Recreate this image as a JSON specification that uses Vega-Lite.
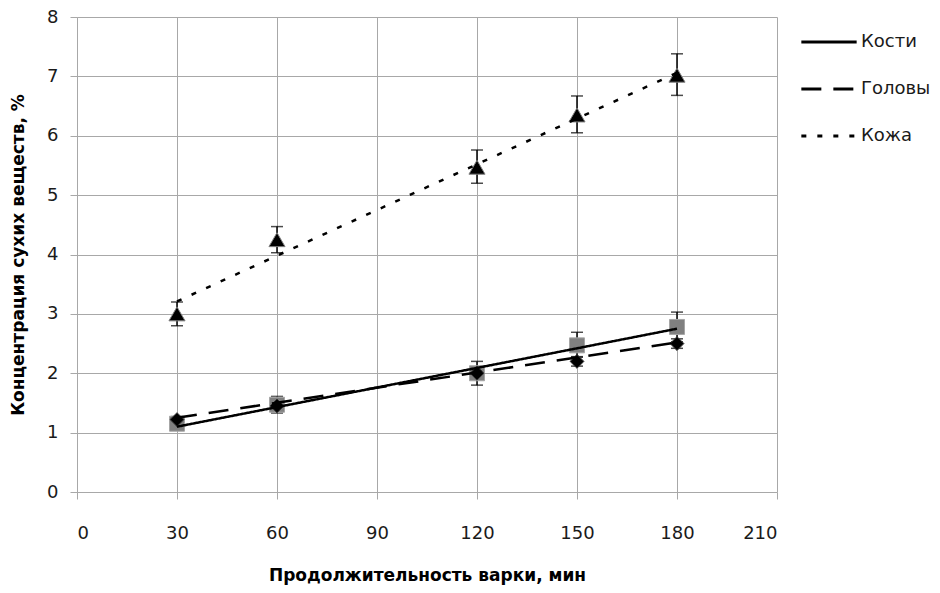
{
  "$schema": "https://vega.github.io/schema/vega-lite/v6.json",
  "autosize": {"type": "none"},
  "width": 700,
  "height": 475,
  "padding": {"left": 77, "top": 17, "right": 163, "bottom": 101},
  "background": "white",
  "config": {
    "view": {"stroke": null},
    "font": "DejaVu Sans",
    "axis": {
      "gridColor": "#a8a8a8",
      "gridWidth": 1,
      "domainColor": "#a8a8a8",
      "tickColor": "#a8a8a8",
      "tickSize": 7,
      "labelFont": "DejaVu Sans",
      "labelFontSize": 18,
      "labelColor": "#1a1a1a",
      "titleFont": "DejaVu Sans",
      "titleFontSize": 17,
      "titleFontWeight": "bold",
      "titleColor": "#000000"
    }
  },
  "datasets": {
    "points": [
      {"series": "Кости", "x": 30, "y": 1.15, "lo": 1.05, "hi": 1.25},
      {"series": "Кости", "x": 60, "y": 1.47, "lo": 1.33, "hi": 1.61},
      {"series": "Кости", "x": 120, "y": 2.0, "lo": 1.8, "hi": 2.2},
      {"series": "Кости", "x": 150, "y": 2.47, "lo": 2.27, "hi": 2.69},
      {"series": "Кости", "x": 180, "y": 2.78, "lo": 2.53, "hi": 3.03},
      {"series": "Головы", "x": 30, "y": 1.22, "lo": 1.17, "hi": 1.27},
      {"series": "Головы", "x": 60, "y": 1.45, "lo": 1.38, "hi": 1.52},
      {"series": "Головы", "x": 120, "y": 2.0, "lo": 1.93, "hi": 2.07},
      {"series": "Головы", "x": 150, "y": 2.2, "lo": 2.12, "hi": 2.28},
      {"series": "Головы", "x": 180, "y": 2.5, "lo": 2.42, "hi": 2.58},
      {"series": "Кожа", "x": 30, "y": 3.0, "lo": 2.8, "hi": 3.2},
      {"series": "Кожа", "x": 60, "y": 4.25, "lo": 4.03, "hi": 4.47},
      {"series": "Кожа", "x": 120, "y": 5.47, "lo": 5.2, "hi": 5.76},
      {"series": "Кожа", "x": 150, "y": 6.35, "lo": 6.05, "hi": 6.67},
      {"series": "Кожа", "x": 180, "y": 7.02, "lo": 6.68, "hi": 7.38}
    ],
    "trends": [
      {"trend": "Кости", "x": 30, "y": 1.1},
      {"trend": "Кости", "x": 180, "y": 2.75},
      {"trend": "Головы", "x": 30, "y": 1.25},
      {"trend": "Головы", "x": 180, "y": 2.52},
      {"trend": "Кожа", "x": 30, "y": 3.21},
      {"trend": "Кожа", "x": 180, "y": 7.06}
    ]
  },
  "encoding": {
    "x": {
      "field": "x",
      "type": "quantitative",
      "scale": {"domain": [0, 210], "nice": false, "zero": true},
      "axis": {
        "values": [0, 30, 60, 90, 120, 150, 180, 210],
        "format": "d",
        "title": "Продолжительность варки, мин",
        "labelPadding": 25,
        "titlePadding": 25,
        "domain": false
      }
    },
    "y": {
      "field": "y",
      "type": "quantitative",
      "scale": {"domain": [0, 8], "nice": false},
      "axis": {
        "values": [0, 1, 2, 3, 4, 5, 6, 7, 8],
        "format": "d",
        "title": "Концентрация сухих веществ, %",
        "labelPadding": 12,
        "titlePadding": 19
      }
    }
  },
  "layer": [
    {
      "data": {"name": "points"},
      "mark": {"type": "rule", "strokeWidth": 1.5, "color": "#000000"},
      "encoding": {
        "y": {"field": "lo", "type": "quantitative"},
        "y2": {"field": "hi"}
      }
    },
    {
      "data": {"name": "points"},
      "mark": {"type": "tick", "orient": "horizontal", "size": 12, "thickness": 1.5, "color": "#000000"},
      "encoding": {"y": {"field": "hi", "type": "quantitative"}}
    },
    {
      "data": {"name": "points"},
      "mark": {"type": "tick", "orient": "horizontal", "size": 12, "thickness": 1.5, "color": "#000000"},
      "encoding": {"y": {"field": "lo", "type": "quantitative"}}
    },
    {
      "data": {"name": "points"},
      "mark": {"type": "point", "filled": true, "opacity": 1, "strokeWidth": 1},
      "encoding": {
        "shape": {
          "field": "series",
          "type": "nominal",
          "scale": {"domain": ["Кожа", "Кости", "Головы"], "range": ["triangle-up", "square", "diamond"]},
          "legend": null
        },
        "fill": {
          "field": "series",
          "type": "nominal",
          "scale": {"domain": ["Кожа", "Кости", "Головы"], "range": ["#000000", "#808080", "#000000"]},
          "legend": null
        },
        "stroke": {
          "field": "series",
          "type": "nominal",
          "scale": {"domain": ["Кожа", "Кости", "Головы"], "range": ["#808080", "#a6a6a6", "#333333"]},
          "legend": null
        },
        "size": {
          "field": "series",
          "type": "nominal",
          "scale": {"domain": ["Кожа", "Кости", "Головы"], "range": [260, 190, 210]},
          "legend": null
        }
      }
    },
    {
      "data": {"name": "trends"},
      "mark": {"type": "line", "strokeWidth": 2.5, "color": "#000000"},
      "encoding": {
        "strokeDash": {
          "field": "trend",
          "type": "nominal",
          "scale": {"domain": ["Кости", "Головы", "Кожа"], "range": [[1, 0], [20, 12], [5, 11]]},
          "legend": {
            "title": null,
            "orient": "none",
            "legendX": 741,
            "legendY": 14,
            "padding": 0,
            "symbolType": "M-3,0H3",
            "symbolSize": 340,
            "symbolStrokeWidth": 2.8,
            "symbolStrokeColor": "#000000",
            "labelFont": "DejaVu Sans",
            "labelFontSize": 18,
            "labelColor": "#1a1a1a",
            "labelOffset": 21,
            "rowPadding": 27,
            "labelLimit": 200
          }
        }
      }
    }
  ]
}
